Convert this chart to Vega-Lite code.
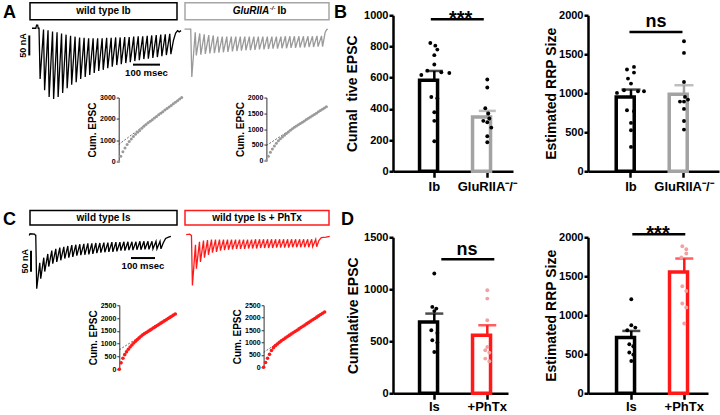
{
"$schema": "https://vega.github.io/schema/vega-lite/v6.json",
"padding": {"left": 2, "top": 1.75, "right": 2, "bottom": 2},
"config": {
  "view": {"stroke": null},
  "font": "Liberation Sans",
  "axis": {"grid": false, "domainColor": "black", "tickColor": "black", "labelColor": "black", "titleColor": "black", "labelFontWeight": "bold", "titleFontWeight": "bold", "labelOverlap": false},
  "title": {"color": "black", "fontWeight": "bold", "fontSize": 18, "anchor": "start", "frame": "group", "offset": 0, "baseline": "alphabetic"}
},
"datasets": {
  "trA1": [{"t":-27,"i":0},{"t":-13,"i":0},{"t":-10,"i":8},{"t":-6,"i":8},{"t":-4,"i":0},{"t":-1,"i":0},{"t":3,"i":-127},{"t":15.7,"i":-3},{"t":19.7,"i":-155},{"t":32.4,"i":-5},{"t":36.4,"i":-172},{"t":49.1,"i":-8},{"t":53.1,"i":-177},{"t":65.8,"i":-10},{"t":69.8,"i":-172},{"t":82.5,"i":-13},{"t":86.5,"i":-162},{"t":99.2,"i":-16},{"t":103.2,"i":-150},{"t":115.9,"i":-19},{"t":119.9,"i":-141},{"t":132.6,"i":-21},{"t":136.6,"i":-135},{"t":149.3,"i":-23},{"t":153.3,"i":-127},{"t":166,"i":-24},{"t":170,"i":-122},{"t":182.7,"i":-25},{"t":186.7,"i":-117},{"t":199.4,"i":-25},{"t":203.4,"i":-112},{"t":216.1,"i":-25},{"t":220.1,"i":-107},{"t":232.8,"i":-25},{"t":236.8,"i":-104},{"t":249.5,"i":-24},{"t":253.5,"i":-100},{"t":266.2,"i":-24},{"t":270.2,"i":-96},{"t":282.9,"i":-23},{"t":286.9,"i":-92},{"t":299.6,"i":-23},{"t":303.6,"i":-90},{"t":316.3,"i":-22},{"t":320.3,"i":-87},{"t":333,"i":-22},{"t":337,"i":-85},{"t":349.7,"i":-21},{"t":353.7,"i":-82},{"t":366.4,"i":-20},{"t":370.4,"i":-80},{"t":383.1,"i":-20},{"t":387.1,"i":-77},{"t":399.8,"i":-19},{"t":403.8,"i":-76},{"t":416.5,"i":-18},{"t":420.5,"i":-74},{"t":433.2,"i":-17},{"t":437.2,"i":-72},{"t":449.9,"i":-16},{"t":453.9,"i":-70},{"t":466.6,"i":-15},{"t":470.6,"i":-67},{"t":483.3,"i":-14},{"t":487.3,"i":-65},{"t":497,"i":-30},{"t":505,"i":-12},{"t":512,"i":-6},{"t":518,"i":-9},{"t":525,"i":-6}],
  "trA2": [{"t":-24,"i":-2},{"t":-3,"i":-2},{"t":-1,"i":-2},{"t":3,"i":-122},{"t":15.7,"i":-10},{"t":19.7,"i":-68},{"t":32.4,"i":-13},{"t":36.4,"i":-66},{"t":49.1,"i":-15},{"t":53.1,"i":-64},{"t":65.8,"i":-17},{"t":69.8,"i":-63},{"t":82.5,"i":-18},{"t":86.5,"i":-62},{"t":99.2,"i":-21},{"t":103.2,"i":-61},{"t":115.9,"i":-21},{"t":119.9,"i":-60},{"t":132.6,"i":-21},{"t":136.6,"i":-59},{"t":149.3,"i":-21},{"t":153.3,"i":-58},{"t":166,"i":-21},{"t":170,"i":-57},{"t":182.7,"i":-21},{"t":186.7,"i":-56},{"t":199.4,"i":-21},{"t":203.4,"i":-55},{"t":216.1,"i":-21},{"t":220.1,"i":-55},{"t":232.8,"i":-21},{"t":236.8,"i":-54},{"t":249.5,"i":-21},{"t":253.5,"i":-53},{"t":266.2,"i":-21},{"t":270.2,"i":-53},{"t":282.9,"i":-21},{"t":286.9,"i":-52},{"t":299.6,"i":-21},{"t":303.6,"i":-51},{"t":316.3,"i":-21},{"t":320.3,"i":-51},{"t":333,"i":-21},{"t":337,"i":-50},{"t":349.7,"i":-20},{"t":353.7,"i":-50},{"t":366.4,"i":-20},{"t":370.4,"i":-49},{"t":383.1,"i":-20},{"t":387.1,"i":-49},{"t":399.8,"i":-20},{"t":403.8,"i":-48},{"t":416.5,"i":-20},{"t":420.5,"i":-48},{"t":433.2,"i":-20},{"t":437.2,"i":-47},{"t":449.9,"i":-20},{"t":453.9,"i":-47},{"t":466.6,"i":-19},{"t":470.6,"i":-46},{"t":483.3,"i":-19},{"t":487.3,"i":-46},{"t":497,"i":-10},{"t":503,"i":-3},{"t":507,"i":-3}],
  "trC1": [{"t":-28,"i":0},{"t":-25,"i":4},{"t":-6,"i":3},{"t":-2,"i":0},{"t":-1,"i":0},{"t":3,"i":-127},{"t":15.7,"i":-65},{"t":19.7,"i":-103},{"t":32.4,"i":-53},{"t":36.4,"i":-86},{"t":49.1,"i":-44},{"t":53.1,"i":-74},{"t":65.8,"i":-36},{"t":69.8,"i":-67},{"t":82.5,"i":-32},{"t":86.5,"i":-63},{"t":99.2,"i":-29},{"t":103.2,"i":-59},{"t":115.9,"i":-27},{"t":119.9,"i":-55},{"t":132.6,"i":-25},{"t":136.6,"i":-53},{"t":149.3,"i":-23},{"t":153.3,"i":-51},{"t":166,"i":-22},{"t":170,"i":-48},{"t":182.7,"i":-21},{"t":186.7,"i":-47},{"t":199.4,"i":-20},{"t":203.4,"i":-46},{"t":216.1,"i":-19},{"t":220.1,"i":-45},{"t":232.8,"i":-19},{"t":236.8,"i":-44},{"t":249.5,"i":-18},{"t":253.5,"i":-42},{"t":266.2,"i":-18},{"t":270.2,"i":-41},{"t":282.9,"i":-17},{"t":286.9,"i":-40},{"t":299.6,"i":-17},{"t":303.6,"i":-39},{"t":316.3,"i":-16},{"t":320.3,"i":-39},{"t":333,"i":-16},{"t":337,"i":-38},{"t":349.7,"i":-16},{"t":353.7,"i":-36},{"t":366.4,"i":-15},{"t":370.4,"i":-36},{"t":383.1,"i":-15},{"t":387.1,"i":-35},{"t":399.8,"i":-15},{"t":403.8,"i":-35},{"t":416.5,"i":-15},{"t":420.5,"i":-34},{"t":433.2,"i":-14},{"t":437.2,"i":-34},{"t":449.9,"i":-14},{"t":453.9,"i":-33},{"t":466.6,"i":-14},{"t":470.6,"i":-33},{"t":483.3,"i":-14},{"t":487.3,"i":-32},{"t":500,"i":-14},{"t":504,"i":-32},{"t":516.7,"i":-14},{"t":520.7,"i":-32},{"t":530,"i":-18},{"t":540,"i":-7},{"t":552,"i":-4},{"t":562,"i":-2}],
  "trC2": [{"t":-23,"i":2},{"t":-8,"i":3},{"t":-2,"i":0},{"t":-1,"i":0},{"t":3,"i":-119},{"t":15.7,"i":-22},{"t":19.7,"i":-79},{"t":32.4,"i":-15},{"t":36.4,"i":-63},{"t":49.1,"i":-12},{"t":53.1,"i":-53},{"t":65.8,"i":-11},{"t":69.8,"i":-46},{"t":82.5,"i":-10},{"t":86.5,"i":-41},{"t":99.2,"i":-10},{"t":103.2,"i":-39},{"t":115.9,"i":-10},{"t":119.9,"i":-36},{"t":132.6,"i":-10},{"t":136.6,"i":-35},{"t":149.3,"i":-10},{"t":153.3,"i":-34},{"t":166,"i":-10},{"t":170,"i":-33},{"t":182.7,"i":-10},{"t":186.7,"i":-32},{"t":199.4,"i":-10},{"t":203.4,"i":-32},{"t":216.1,"i":-10},{"t":220.1,"i":-32},{"t":232.8,"i":-10},{"t":236.8,"i":-31},{"t":249.5,"i":-10},{"t":253.5,"i":-31},{"t":266.2,"i":-9},{"t":270.2,"i":-31},{"t":282.9,"i":-9},{"t":286.9,"i":-30},{"t":299.6,"i":-9},{"t":303.6,"i":-30},{"t":316.3,"i":-9},{"t":320.3,"i":-30},{"t":333,"i":-9},{"t":337,"i":-30},{"t":349.7,"i":-9},{"t":353.7,"i":-29},{"t":366.4,"i":-9},{"t":370.4,"i":-29},{"t":383.1,"i":-9},{"t":387.1,"i":-29},{"t":399.8,"i":-9},{"t":403.8,"i":-29},{"t":416.5,"i":-9},{"t":420.5,"i":-28},{"t":433.2,"i":-9},{"t":437.2,"i":-28},{"t":449.9,"i":-9},{"t":453.9,"i":-28},{"t":466.6,"i":-9},{"t":470.6,"i":-28},{"t":483.3,"i":-9},{"t":487.3,"i":-28},{"t":500,"i":-9},{"t":504,"i":-27},{"t":516.7,"i":-9},{"t":520.7,"i":-27},{"t":530,"i":-12},{"t":540,"i":-5},{"t":560,"i":-4},{"t":575,"i":-2}],
  "c1": [{"k":0,"v":0},{"k":1,"v":250},{"k":2,"v":460},{"k":3,"v":640},{"k":4,"v":800},{"k":5,"v":940},{"k":6,"v":1060},{"k":7,"v":1170},{"k":8,"v":1275},{"k":9,"v":1370},{"k":10,"v":1460},{"k":11,"v":1560},{"k":12,"v":1650},{"k":13,"v":1735},{"k":14,"v":1815},{"k":15,"v":1890},{"k":16,"v":1965},{"k":17,"v":2040},{"k":18,"v":2115},{"k":19,"v":2190},{"k":20,"v":2265},{"k":21,"v":2340},{"k":22,"v":2413},{"k":23,"v":2487},{"k":24,"v":2560},{"k":25,"v":2633},{"k":26,"v":2707},{"k":27,"v":2780},{"k":28,"v":2853},{"k":29,"v":2927},{"k":30,"v":3000}],
  "c1fit": [{"k":0,"v":800},{"k":30,"v":3000}],
  "c2": [{"k":0,"v":0},{"k":1,"v":140},{"k":2,"v":260},{"k":3,"v":370},{"k":4,"v":465},{"k":5,"v":550},{"k":6,"v":625},{"k":7,"v":690},{"k":8,"v":750},{"k":9,"v":805},{"k":10,"v":860},{"k":11,"v":910},{"k":12,"v":960},{"k":13,"v":1010},{"k":14,"v":1054},{"k":15,"v":1095},{"k":16,"v":1136},{"k":17,"v":1177},{"k":18,"v":1218},{"k":19,"v":1259},{"k":20,"v":1300},{"k":21,"v":1341},{"k":22,"v":1382},{"k":23,"v":1423},{"k":24,"v":1464},{"k":25,"v":1505},{"k":26,"v":1546},{"k":27,"v":1587},{"k":28,"v":1628},{"k":29,"v":1669},{"k":30,"v":1710}],
  "c2fit": [{"k":0,"v":480},{"k":30,"v":1710}],
  "c3": [{"k":0,"v":0},{"k":1,"v":250},{"k":2,"v":430},{"k":3,"v":570},{"k":4,"v":680},{"k":5,"v":780},{"k":6,"v":870},{"k":7,"v":950},{"k":8,"v":1025},{"k":9,"v":1095},{"k":10,"v":1160},{"k":11,"v":1225},{"k":12,"v":1290},{"k":13,"v":1345},{"k":14,"v":1393},{"k":15,"v":1438},{"k":16,"v":1483},{"k":17,"v":1528},{"k":18,"v":1574},{"k":19,"v":1619},{"k":20,"v":1664},{"k":21,"v":1709},{"k":22,"v":1754},{"k":23,"v":1800},{"k":24,"v":1845},{"k":25,"v":1890},{"k":26,"v":1935},{"k":27,"v":1980},{"k":28,"v":2025},{"k":29,"v":2070},{"k":30,"v":2115},{"k":31,"v":2160}],
  "c3fit": [{"k":0,"v":760},{"k":31,"v":2160}],
  "c4": [{"k":0,"v":0},{"k":1,"v":190},{"k":2,"v":360},{"k":3,"v":520},{"k":4,"v":675},{"k":5,"v":790},{"k":6,"v":870},{"k":7,"v":940},{"k":8,"v":1005},{"k":9,"v":1065},{"k":10,"v":1120},{"k":11,"v":1175},{"k":12,"v":1231},{"k":13,"v":1284},{"k":14,"v":1336},{"k":15,"v":1389},{"k":16,"v":1442},{"k":17,"v":1494},{"k":18,"v":1547},{"k":19,"v":1600},{"k":20,"v":1652},{"k":21,"v":1705},{"k":22,"v":1757},{"k":23,"v":1810},{"k":24,"v":1863},{"k":25,"v":1915},{"k":26,"v":1968},{"k":27,"v":2020},{"k":28,"v":2073},{"k":29,"v":2126},{"k":30,"v":2178},{"k":31,"v":2230}],
  "c4fit": [{"k":0,"v":600},{"k":31,"v":2230}],
  "b1sum": [{"g":"Ib","v":583,"u":643},{"g":"GluRIIA⁻/⁻","v":348,"u":387}],
  "b1dots": [{"g":"Ib","v":822,"j":-4},{"g":"Ib","v":805,"j":1},{"g":"Ib","v":780,"j":3},{"g":"Ib","v":744,"j":0},{"g":"Ib","v":684,"j":0},{"g":"Ib","v":617,"j":-13},{"g":"Ib","v":645,"j":-7},{"g":"Ib","v":635,"j":7},{"g":"Ib","v":630,"j":15},{"g":"Ib","v":476,"j":-3},{"g":"Ib","v":468,"j":3},{"g":"Ib","v":378,"j":0},{"g":"Ib","v":323,"j":0},{"g":"Ib","v":192,"j":0},{"g":"GluRIIA⁻/⁻","v":588,"j":0},{"g":"GluRIIA⁻/⁻","v":537,"j":0},{"g":"GluRIIA⁻/⁻","v":404,"j":-2},{"g":"GluRIIA⁻/⁻","v":370,"j":1},{"g":"GluRIIA⁻/⁻","v":323,"j":-4},{"g":"GluRIIA⁻/⁻","v":314,"j":0},{"g":"GluRIIA⁻/⁻","v":338,"j":2},{"g":"GluRIIA⁻/⁻","v":280,"j":4},{"g":"GluRIIA⁻/⁻","v":224,"j":0},{"g":"GluRIIA⁻/⁻","v":186,"j":0}],
  "b1sig": [{"g":"Ib","v":975},{"g":"GluRIIA⁻/⁻","v":975}],
  "b2sum": [{"g":"Ib","v":953,"u":1047},{"g":"GluRIIA⁻/⁻","v":987,"u":1103}],
  "b2dots": [{"g":"Ib","v":1304,"j":-4},{"g":"Ib","v":1338,"j":3},{"g":"Ib","v":1265,"j":3},{"g":"Ib","v":1188,"j":-3},{"g":"Ib","v":1124,"j":0},{"g":"Ib","v":1004,"j":-14},{"g":"Ib","v":1038,"j":-7},{"g":"Ib","v":1026,"j":7},{"g":"Ib","v":1026,"j":13},{"g":"Ib","v":782,"j":-4},{"g":"Ib","v":769,"j":3},{"g":"Ib","v":620,"j":0},{"g":"Ib","v":526,"j":0},{"g":"Ib","v":312,"j":0},{"g":"GluRIIA⁻/⁻","v":1667,"j":0},{"g":"GluRIIA⁻/⁻","v":1517,"j":0},{"g":"GluRIIA⁻/⁻","v":1145,"j":0},{"g":"GluRIIA⁻/⁻","v":953,"j":1},{"g":"GluRIIA⁻/⁻","v":919,"j":4},{"g":"GluRIIA⁻/⁻","v":893,"j":-4},{"g":"GluRIIA⁻/⁻","v":893,"j":0},{"g":"GluRIIA⁻/⁻","v":799,"j":0},{"g":"GluRIIA⁻/⁻","v":645,"j":0},{"g":"GluRIIA⁻/⁻","v":534,"j":0}],
  "b2sig": [{"g":"Ib","v":1786},{"g":"GluRIIA⁻/⁻","v":1786}],
  "b3sum": [{"g":"Is","v":686,"u":766},{"g":"+PhTx","v":558,"u":654}],
  "b3dots": [{"g":"Is","v":1151,"j":0},{"g":"Is","v":830,"j":-2},{"g":"Is","v":814,"j":2},{"g":"Is","v":790,"j":0},{"g":"Is","v":606,"j":-3},{"g":"Is","v":580,"j":3},{"g":"Is","v":510,"j":-2},{"g":"Is","v":487,"j":3},{"g":"Is","v":397,"j":0},{"g":"+PhTx","v":990,"j":0},{"g":"+PhTx","v":910,"j":0},{"g":"+PhTx","v":702,"j":0},{"g":"+PhTx","v":445,"j":0},{"g":"+PhTx","v":391,"j":2},{"g":"+PhTx","v":413,"j":-2},{"g":"+PhTx","v":333,"j":-2},{"g":"+PhTx","v":308,"j":2}],
  "b3sig": [{"g":"Is","v":1288},{"g":"+PhTx","v":1288}],
  "b4sum": [{"g":"Is","v":714,"u":799},{"g":"+PhTx","v":1556,"u":1727}],
  "b4dots": [{"g":"Is","v":1205,"j":0},{"g":"Is","v":872,"j":0},{"g":"Is","v":842,"j":4},{"g":"Is","v":808,"j":-4},{"g":"Is","v":628,"j":-2},{"g":"Is","v":603,"j":2},{"g":"Is","v":522,"j":-2},{"g":"Is","v":496,"j":2},{"g":"Is","v":414,"j":0},{"g":"+PhTx","v":1885,"j":-2},{"g":"+PhTx","v":1846,"j":2},{"g":"+PhTx","v":1791,"j":2},{"g":"+PhTx","v":1740,"j":-3},{"g":"+PhTx","v":1372,"j":-2},{"g":"+PhTx","v":1312,"j":2},{"g":"+PhTx","v":1150,"j":-2},{"g":"+PhTx","v":1099,"j":2},{"g":"+PhTx","v":894,"j":0}],
  "b4sig": [{"g":"Is","v":2038},{"g":"+PhTx","v":2038}]
},
"bounds": "flush",
"spacing": 363,
"hconcat": [
 {
  "bounds": "flush",
  "spacing": 207.75,
  "vconcat": [
   {
    "bounds": "flush",
    "spacing": 94.8,
    "vconcat": [
     {
      "columns": 2, "bounds": "flush", "spacing": {"row": 2, "column": 8},
      "concat": [
       {"width": 147, "height": 17, "view": {"stroke": "black", "strokeWidth": 1.5},
        "title": {"text": "A", "dx": -27, "dy": 23},
        "data": {"values": [{"s": "wild type Ib"}]},
        "mark": {"type": "text", "fontSize": 10, "fontWeight": "bold", "color": "black"},
        "encoding": {"text": {"field": "s"}}},
       {"width": 144, "height": 17, "view": {"stroke": "#a6a6a6", "strokeWidth": 1.5},
        "layer": [
         {"data": {"values": [{"s": "GluRIIA"}]}, "mark": {"type": "text", "fontSize": 10, "fontWeight": "bold", "fontStyle": "italic", "align": "right", "dx": 12.3, "color": "black"}, "encoding": {"text": {"field": "s"}}},
         {"data": {"values": [{"s": "-/-"}]}, "mark": {"type": "text", "fontSize": 6, "fontWeight": "bold", "fontStyle": "italic", "align": "left", "dx": 12.8, "dy": -3, "color": "black"}, "encoding": {"text": {"field": "s"}}},
         {"data": {"values": [{"s": "Ib"}]}, "mark": {"type": "text", "fontSize": 10, "fontWeight": "bold", "align": "left", "dx": 20.5, "color": "black"}, "encoding": {"text": {"field": "s"}}}
        ]},
       {"width": 147, "height": 78.5,
        "encoding": {"x": {"field": "t", "type": "quantitative", "scale": {"domain": [-34.4, 510], "nice": false, "zero": false}, "axis": null},
                     "y": {"field": "i", "type": "quantitative", "scale": {"domain": [-180, 16.25], "nice": false, "zero": false}, "axis": null}},
        "layer": [
         {"data": {"name": "trA1"}, "mark": {"type": "line", "color": "black", "strokeWidth": 1.3}, "encoding": {}},
         {"data": {"values": [{"t": -37, "t2": -37, "i": -18, "i2": -68}, {"t": 347, "t2": 447, "i": -91, "i2": -91}]}, "mark": {"type": "rule", "color": "black", "strokeWidth": 2}, "encoding": {"x2": {"field": "t2"}, "y2": {"field": "i2"}}},
         {"data": {"values": [{"t": -37, "i": -43, "s": "50 nA"}]}, "mark": {"type": "text", "angle": 270, "fontSize": 9, "fontWeight": "bold", "baseline": "bottom", "align": "center", "dy": -1.5, "color": "black"}, "encoding": {"text": {"field": "s"}}},
         {"data": {"values": [{"t": 397, "i": -91, "s": "100 msec"}]}, "mark": {"type": "text", "fontSize": 9.5, "fontWeight": "bold", "baseline": "top", "align": "center", "dy": 3, "color": "black"}, "encoding": {"text": {"field": "s"}}}
        ]},
       {"width": 144, "height": 78.5,
        "encoding": {"x": {"field": "t", "type": "quantitative", "scale": {"domain": [-22.2, 511.1], "nice": false, "zero": false}, "axis": null},
                     "y": {"field": "i", "type": "quantitative", "scale": {"domain": [-180, 16.25], "nice": false, "zero": false}, "axis": null}},
        "layer": [
         {"data": {"name": "trA2"}, "mark": {"type": "line", "color": "#9a9a9a", "strokeWidth": 1.3}, "encoding": {}}
        ]}
      ]
     },
     {
      "bounds": "flush", "spacing": 84.7,
      "hconcat": [
       {"width": 3.6, "height": 10, "data": {"values": [{"a": 1}]}, "mark": {"type": "point", "opacity": 0}},
       {"width": 63, "height": 64,
        "encoding": {"x": {"field": "k", "type": "quantitative", "scale": {"domain": [0, 30], "nice": false, "zero": false}, "axis": null},
                     "y": {"field": "v", "type": "quantitative", "scale": {"domain": [0, 3000], "nice": false}, "axis": {"values": [0, 1000, 2000, 3000], "format": "d", "labelOverlap": false, "title": "Cum. EPSC", "titleFontSize": 10, "titlePadding": 2, "labelFontSize": 7, "labelPadding": 1, "tickSize": 2.5, "tickWidth": 1, "domainWidth": 1, "domainColor": "#333", "tickColor": "#333"}}},
        "layer": [
         {"data": {"name": "c1fit"}, "mark": {"type": "line", "color": "#444", "strokeWidth": 0.8, "strokeDash": [2, 1.5]}, "encoding": {}},
         {"data": {"name": "c1"}, "mark": {"type": "circle", "size": 9, "opacity": 1, "color": "#9a9a9a"}}
        ]},
       {"width": 60, "height": 63,
        "encoding": {"x": {"field": "k", "type": "quantitative", "scale": {"domain": [0, 30], "nice": false, "zero": false}, "axis": null},
                     "y": {"field": "v", "type": "quantitative", "scale": {"domain": [0, 2000], "nice": false}, "axis": {"values": [0, 500, 1000, 1500, 2000], "format": "d", "labelOverlap": false, "title": "Cum. EPSC", "titleFontSize": 10, "titlePadding": 2, "labelFontSize": 7, "labelPadding": 1, "tickSize": 2.5, "tickWidth": 1, "domainWidth": 1, "domainColor": "#333", "tickColor": "#333"}}},
        "layer": [
         {"data": {"name": "c2fit"}, "mark": {"type": "line", "color": "#444", "strokeWidth": 0.8, "strokeDash": [2, 1.5]}, "encoding": {}},
         {"data": {"name": "c2"}, "mark": {"type": "circle", "size": 9, "opacity": 1, "color": "#9a9a9a"}}
        ]}
      ]
     }
    ]
   },
   {
    "bounds": "flush",
    "spacing": 94.75,
    "vconcat": [
     {
      "columns": 2, "bounds": "flush", "spacing": {"row": 2, "column": 8},
      "concat": [
       {"width": 147, "height": 14.5, "view": {"stroke": "black", "strokeWidth": 1.5},
        "title": {"text": "C", "dx": -27, "dy": 22.25},
        "data": {"values": [{"s": "wild type Is"}]},
        "mark": {"type": "text", "fontSize": 10, "fontWeight": "bold", "color": "black"},
        "encoding": {"text": {"field": "s"}}},
       {"width": 144, "height": 14.5, "view": {"stroke": "#ff1a1a", "strokeWidth": 1.5},
        "data": {"values": [{"s": "wild type Is + PhTx"}]},
        "mark": {"type": "text", "fontSize": 10, "fontWeight": "bold", "color": "black"},
        "encoding": {"text": {"field": "s"}}},
       {"width": 147, "height": 80.95,
        "encoding": {"x": {"field": "t", "type": "quantitative", "scale": {"domain": [-25, 587.5], "nice": false, "zero": false}, "axis": null},
                     "y": {"field": "i", "type": "quantitative", "scale": {"domain": [-173.8, 18.93], "nice": false, "zero": false}, "axis": null}},
        "layer": [
         {"data": {"name": "trC1"}, "mark": {"type": "line", "color": "black", "strokeWidth": 1.3}, "encoding": {}},
         {"data": {"values": [{"t": -20.8, "t2": -20.8, "i": -36.4, "i2": -86.4}, {"t": 395.8, "t2": 495.8, "i": -53.8, "i2": -53.8}]}, "mark": {"type": "rule", "color": "black", "strokeWidth": 2}, "encoding": {"x2": {"field": "t2"}, "y2": {"field": "i2"}}},
         {"data": {"values": [{"t": -20.8, "i": -61.4, "s": "50 nA"}]}, "mark": {"type": "text", "angle": 270, "fontSize": 9, "fontWeight": "bold", "baseline": "bottom", "align": "center", "dy": -1.5, "color": "black"}, "encoding": {"text": {"field": "s"}}},
         {"data": {"values": [{"t": 445.8, "i": -53.8, "s": "100 msec"}]}, "mark": {"type": "text", "fontSize": 9.5, "fontWeight": "bold", "baseline": "top", "align": "center", "dy": 3, "color": "black"}, "encoding": {"text": {"field": "s"}}}
        ]},
       {"width": 144, "height": 80.95,
        "encoding": {"x": {"field": "t", "type": "quantitative", "scale": {"domain": [-27.9, 572.1], "nice": false, "zero": false}, "axis": null},
                     "y": {"field": "i", "type": "quantitative", "scale": {"domain": [-173.8, 18.93], "nice": false, "zero": false}, "axis": null}},
        "layer": [
         {"data": {"name": "trC2"}, "mark": {"type": "line", "color": "#ff1a1a", "strokeWidth": 1.3}, "encoding": {}}
        ]}
      ]
     },
     {
      "bounds": "flush", "spacing": 88.3,
      "hconcat": [
       {"width": 0.3, "height": 10, "data": {"values": [{"a": 1}]}, "mark": {"type": "point", "opacity": 0}},
       {"width": 56, "height": 64,
        "encoding": {"x": {"field": "k", "type": "quantitative", "scale": {"domain": [0, 31], "nice": false, "zero": false}, "axis": null},
                     "y": {"field": "v", "type": "quantitative", "scale": {"domain": [0, 2500], "nice": false}, "axis": {"values": [0, 500, 1000, 1500, 2000, 2500], "format": "d", "labelOverlap": false, "title": "Cum. EPSC", "titleFontSize": 10, "titlePadding": 2, "labelFontSize": 7, "labelPadding": 1, "tickSize": 2.5, "tickWidth": 1, "domainWidth": 1, "domainColor": "#333", "tickColor": "#333"}}},
        "layer": [
         {"data": {"name": "c3fit"}, "mark": {"type": "line", "color": "#444", "strokeWidth": 0.8, "strokeDash": [2, 1.5]}, "encoding": {}},
         {"data": {"name": "c3"}, "mark": {"type": "circle", "size": 13, "opacity": 1, "color": "#ff1a1a"}}
        ]},
       {"width": 61, "height": 62,
        "encoding": {"x": {"field": "k", "type": "quantitative", "scale": {"domain": [0, 31], "nice": false, "zero": false}, "axis": null},
                     "y": {"field": "v", "type": "quantitative", "scale": {"domain": [0, 2500], "nice": false}, "axis": {"values": [0, 500, 1000, 1500, 2000, 2500], "format": "d", "labelOverlap": false, "title": "Cum. EPSC", "titleFontSize": 10, "titlePadding": 2, "labelFontSize": 7, "labelPadding": 1, "tickSize": 2.5, "tickWidth": 1, "domainWidth": 1, "domainColor": "#333", "tickColor": "#333"}}},
        "layer": [
         {"data": {"name": "c4fit"}, "mark": {"type": "line", "color": "#444", "strokeWidth": 0.8, "strokeDash": [2, 1.5]}, "encoding": {}},
         {"data": {"name": "c4"}, "mark": {"type": "circle", "size": 13, "opacity": 1, "color": "#ff1a1a"}}
        ]}
      ]
     }
    ]
   }
  ]
 },
 {
  "bounds": "flush",
  "spacing": 2.5,
  "vconcat": [
   {"width": 1, "height": 10, "title": {"text": "B", "dx": -59, "dy": 23}, "data": {"values": [{"a": 1}]}, "mark": {"type": "point", "opacity": 0}},
   {
    "columns": 2, "bounds": "flush", "spacing": {"row": 66, "column": 75},
    "resolve": {"scale": {"xOffset": "independent"}},
    "concat": [
     {"width": 120, "height": 156,
      "encoding": {"x": {"field": "g", "type": "nominal", "sort": null, "scale": {"domain": ["Ib", "GluRIIA⁻/⁻"], "paddingInner": 0.443, "paddingOuter": 0.354, "align": 0.708}, "axis": {"title": null, "labelAngle": 0, "labelFontSize": 13, "labelPadding": 3.5, "tickSize": 6, "tickWidth": 2.5, "domainWidth": 2.5}},
                   "y": {"field": "v", "type": "quantitative", "title": "Cumal\u00a0\u00a0tive EPSC", "scale": {"domain": [0, 1000], "nice": false}, "axis": {"values": [0, 200, 400, 600, 800, 1000], "format": "d", "labelOverlap": false, "titleFontSize": 14, "titlePadding": 4.5, "labelFontSize": 11, "labelPadding": 1, "tickSize": 4, "tickWidth": 2.5, "domainWidth": 2.5}}},
      "layer": [
       {"data": {"name": "b1sum"}, "mark": {"type": "bar", "fill": "white", "strokeWidth": 3.5},
        "encoding": {"stroke": {"condition": {"test": "datum.g === 'Ib'", "value": "black"}, "value": "#a3a3a3"}}},
       {"data": {"name": "b1sum"}, "mark": {"type": "rule", "strokeWidth": 2.5},
        "encoding": {"y2": {"field": "u"}, "stroke": {"condition": {"test": "datum.g === 'Ib'", "value": "black"}, "value": "#a3a3a3"}}},
       {"data": {"name": "b1sum"}, "mark": {"type": "tick", "thickness": 2.5, "size": 17},
        "encoding": {"y": {"field": "u", "type": "quantitative", "title": "Cumal\u00a0\u00a0tive EPSC", "scale": {"domain": [0, 1000], "nice": false}, "axis": {"values": [0, 200, 400, 600, 800, 1000], "format": "d", "labelOverlap": false, "titleFontSize": 14, "titlePadding": 4.5, "labelFontSize": 11, "labelPadding": 1, "tickSize": 4, "tickWidth": 2.5, "domainWidth": 2.5}}, "color": {"condition": {"test": "datum.g === 'Ib'", "value": "black"}, "value": "#a3a3a3"}}},
       {"data": {"name": "b1dots"}, "mark": {"type": "circle", "size": 15, "opacity": 1, "color": "black"},
        "encoding": {"xOffset": {"field": "j", "type": "quantitative", "scale": {"domain": [-14.75, 14.75], "nice": false, "zero": false}}}},
       {"data": {"name": "b1sig"}, "mark": {"type": "line", "color": "black", "strokeWidth": 2.5, "xOffset": -3.5}, "encoding": {}},
       {"data": {"values": [{"g": "Ib", "v": 975, "s": "***"}]}, "mark": {"type": "text", "fontSize": 20, "fontWeight": "bold", "baseline": "alphabetic", "align": "center", "dx": 26.4, "dy": 6.3, "color": "black"},
        "encoding": {"text": {"field": "s"}}}
      ]},
     {"width": 131, "height": 156,
      "encoding": {"x": {"field": "g", "type": "nominal", "sort": null, "scale": {"domain": ["Ib", "GluRIIA⁻/⁻"], "paddingInner": 0.443, "paddingOuter": 0.4575, "align": 0.582}, "axis": {"title": null, "labelAngle": 0, "labelFontSize": 13, "labelPadding": 3.5, "tickSize": 6, "tickWidth": 2.5, "domainWidth": 2.5}},
                   "y": {"field": "v", "type": "quantitative", "title": "Estimated RRP Size", "scale": {"domain": [0, 2000], "nice": false}, "axis": {"values": [0, 500, 1000, 1500, 2000], "format": "d", "labelOverlap": false, "titleFontSize": 14, "titlePadding": 0, "labelFontSize": 11, "labelPadding": 1, "tickSize": 4, "tickWidth": 2.5, "domainWidth": 2.5}}},
      "layer": [
       {"data": {"name": "b2sum"}, "mark": {"type": "bar", "fill": "white", "strokeWidth": 3.5},
        "encoding": {"stroke": {"condition": {"test": "datum.g === 'Ib'", "value": "black"}, "value": "#a3a3a3"}}},
       {"data": {"name": "b2sum"}, "mark": {"type": "rule", "strokeWidth": 2.5},
        "encoding": {"y2": {"field": "u"}, "stroke": {"condition": {"test": "datum.g === 'Ib'", "value": "black"}, "value": "#a3a3a3"}}},
       {"data": {"name": "b2sum"}, "mark": {"type": "tick", "thickness": 2.5, "size": 19},
        "encoding": {"y": {"field": "u", "type": "quantitative", "title": "Estimated RRP Size", "scale": {"domain": [0, 2000], "nice": false}, "axis": {"values": [0, 500, 1000, 1500, 2000], "format": "d", "labelOverlap": false, "titleFontSize": 14, "titlePadding": 0, "labelFontSize": 11, "labelPadding": 1, "tickSize": 4, "tickWidth": 2.5, "domainWidth": 2.5}}, "color": {"condition": {"test": "datum.g === 'Ib'", "value": "black"}, "value": "#a3a3a3"}}},
       {"data": {"name": "b2dots"}, "mark": {"type": "circle", "size": 15, "opacity": 1, "color": "black"},
        "encoding": {"xOffset": {"field": "j", "type": "quantitative", "scale": {"domain": [-14.75, 14.75], "nice": false, "zero": false}}}},
       {"data": {"name": "b2sig"}, "mark": {"type": "line", "color": "black", "strokeWidth": 2.5, "xOffset": -1.5}, "encoding": {}},
       {"data": {"values": [{"g": "Ib", "v": 1786, "s": "ns"}]}, "mark": {"type": "text", "fontSize": 18, "fontWeight": "bold", "baseline": "alphabetic", "align": "center", "dx": 25, "dy": -5, "color": "black"},
        "encoding": {"text": {"field": "s"}}}
      ]},
     {"width": 115, "height": 156,
      "title": {"text": "D", "dx": -52, "dy": 1.5},
      "encoding": {"x": {"field": "g", "type": "nominal", "sort": null, "scale": {"domain": ["Is", "+PhTx"], "paddingInner": 0.443, "paddingOuter": 0.3066, "align": 0.817}, "axis": {"title": null, "labelAngle": 0, "labelFontSize": 13, "labelPadding": 1, "tickSize": 6, "tickWidth": 2.5, "domainWidth": 2.5}},
                   "y": {"field": "v", "type": "quantitative", "title": "Cumalative EPSC", "scale": {"domain": [0, 1500], "nice": false}, "axis": {"values": [0, 500, 1000, 1500], "format": "d", "labelOverlap": false, "titleFontSize": 14, "titlePadding": 3, "labelFontSize": 11, "labelPadding": 1, "tickSize": 4, "tickWidth": 2.5, "domainWidth": 2.5}}},
      "layer": [
       {"data": {"name": "b3sum"}, "mark": {"type": "bar", "fill": "white", "strokeWidth": 3.5},
        "encoding": {"stroke": {"condition": {"test": "datum.g === 'Is'", "value": "black"}, "value": "#ff1a1a"}}},
       {"data": {"name": "b3sum"}, "mark": {"type": "rule", "strokeWidth": 2.5},
        "encoding": {"y2": {"field": "u"}, "stroke": {"condition": {"test": "datum.g === 'Is'", "value": "black"}, "value": "#ff1a1a"}}},
       {"data": {"name": "b3sum"}, "mark": {"type": "tick", "thickness": 2.5, "size": 18},
        "encoding": {"y": {"field": "u", "type": "quantitative", "title": "Cumalative EPSC", "scale": {"domain": [0, 1500], "nice": false}, "axis": {"values": [0, 500, 1000, 1500], "format": "d", "labelOverlap": false, "titleFontSize": 14, "titlePadding": 3, "labelFontSize": 11, "labelPadding": 1, "tickSize": 4, "tickWidth": 2.5, "domainWidth": 2.5}}, "color": {"condition": {"test": "datum.g === 'Is'", "value": "black"}, "value": "#ff1a1a"}}},
       {"data": {"name": "b3dots"}, "mark": {"type": "circle", "size": 15, "opacity": 1},
        "encoding": {"xOffset": {"field": "j", "type": "quantitative", "scale": {"domain": [-14.75, 14.75], "nice": false, "zero": false}}, "color": {"condition": {"test": "datum.g === 'Is'", "value": "black"}, "value": "#f5a0a0"}}},
       {"data": {"name": "b3sig"}, "mark": {"type": "line", "color": "black", "strokeWidth": 2.5, "xOffset": 7}, "encoding": {}},
       {"data": {"values": [{"g": "Is", "v": 1288, "s": "ns"}]}, "mark": {"type": "text", "fontSize": 18, "fontWeight": "bold", "baseline": "alphabetic", "align": "center", "dx": 32.7, "dy": -4, "color": "black"},
        "encoding": {"text": {"field": "s"}}}
      ]},
     {"width": 120, "height": 156,
      "encoding": {"x": {"field": "g", "type": "nominal", "sort": null, "scale": {"domain": ["Is", "+PhTx"], "paddingInner": 0.443, "paddingOuter": 0.354, "align": 0.761}, "axis": {"title": null, "labelAngle": 0, "labelFontSize": 13, "labelPadding": 1, "tickSize": 6, "tickWidth": 2.5, "domainWidth": 2.5}},
                   "y": {"field": "v", "type": "quantitative", "title": "Estimated RRP Size", "scale": {"domain": [0, 2000], "nice": false}, "axis": {"values": [0, 500, 1000, 1500, 2000], "format": "d", "labelOverlap": false, "titleFontSize": 14, "titlePadding": 0, "labelFontSize": 11, "labelPadding": 1, "tickSize": 4, "tickWidth": 2.5, "domainWidth": 2.5}}},
      "layer": [
       {"data": {"name": "b4sum"}, "mark": {"type": "bar", "fill": "white", "strokeWidth": 3.5},
        "encoding": {"stroke": {"condition": {"test": "datum.g === 'Is'", "value": "black"}, "value": "#ff1a1a"}}},
       {"data": {"name": "b4sum"}, "mark": {"type": "rule", "strokeWidth": 2.5},
        "encoding": {"y2": {"field": "u"}, "stroke": {"condition": {"test": "datum.g === 'Is'", "value": "black"}, "value": "#ff1a1a"}}},
       {"data": {"name": "b4sum"}, "mark": {"type": "tick", "thickness": 2.5, "size": 18},
        "encoding": {"y": {"field": "u", "type": "quantitative", "title": "Estimated RRP Size", "scale": {"domain": [0, 2000], "nice": false}, "axis": {"values": [0, 500, 1000, 1500, 2000], "format": "d", "labelOverlap": false, "titleFontSize": 14, "titlePadding": 0, "labelFontSize": 11, "labelPadding": 1, "tickSize": 4, "tickWidth": 2.5, "domainWidth": 2.5}}, "color": {"condition": {"test": "datum.g === 'Is'", "value": "black"}, "value": "#ff1a1a"}}},
       {"data": {"name": "b4dots"}, "mark": {"type": "circle", "size": 15, "opacity": 1},
        "encoding": {"xOffset": {"field": "j", "type": "quantitative", "scale": {"domain": [-14.75, 14.75], "nice": false, "zero": false}}, "color": {"condition": {"test": "datum.g === 'Is'", "value": "black"}, "value": "#f5a0a0"}}},
       {"data": {"name": "b4sig"}, "mark": {"type": "line", "color": "black", "strokeWidth": 2.5, "xOffset": 1}, "encoding": {}},
       {"data": {"values": [{"g": "Is", "v": 2038, "s": "***"}]}, "mark": {"type": "text", "fontSize": 20, "fontWeight": "bold", "baseline": "alphabetic", "align": "center", "dx": 26.7, "dy": 5.8, "color": "black"},
        "encoding": {"text": {"field": "s"}}}
      ]}
    ]
   }
  ]
 }
]
}
